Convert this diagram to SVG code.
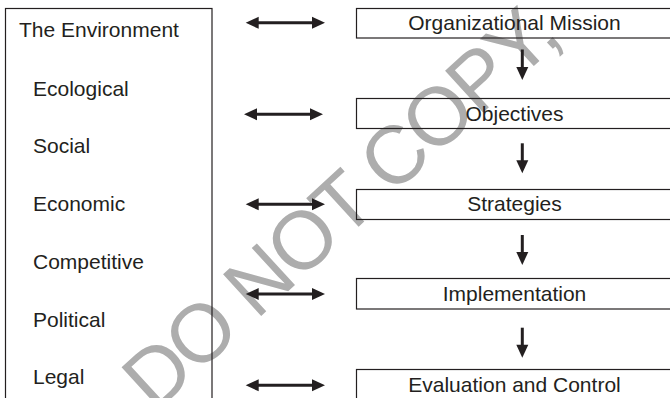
<svg xmlns="http://www.w3.org/2000/svg" width="670" height="398" viewBox="0 0 670 398">
  <defs>
    <marker id="head" markerUnits="userSpaceOnUse" markerWidth="13" markerHeight="12" refX="5" refY="6" orient="auto-start-reverse" overflow="visible">
      <path d="M0,0 L13,6 L0,12 Z" fill="#231f20"/>
    </marker>
  </defs>
  <style>
    .box { fill: none; stroke: #231f20; stroke-width: 1.2; }
    .lbl { font-family: "Liberation Sans", Arial, Helvetica, sans-serif; font-size: 21px; fill: #231f20; }
    .mid { text-anchor: middle; }
    .conn { stroke: #231f20; stroke-width: 3; fill: none; }
    .mark { font-family: "Liberation Sans", Arial, sans-serif; font-size: 82px; fill: #adadad; letter-spacing: -2.7px; }
  </style>
  <rect width="670" height="398" fill="#ffffff"/>

  <!-- diagonal watermark, drawn beneath the chart -->
  <text class="mark" transform="translate(154.7,413.5) rotate(-42.5)">DO NOT COPY,</text>

  <!-- environment panel with its factors -->
  <g id="environment">
    <rect class="box" x="5.5" y="8.5" width="206.5" height="400"/>
    <text class="lbl" x="19" y="37.3">The Environment</text>
    <text class="lbl" x="33" y="95.7">Ecological</text>
    <text class="lbl" x="33" y="153.3">Social</text>
    <text class="lbl" x="33" y="211">Economic</text>
    <text class="lbl" x="33" y="268.5">Competitive</text>
    <text class="lbl" x="33" y="326.7">Political</text>
    <text class="lbl" x="33" y="383.5">Legal</text>
  </g>

  <!-- planning stages -->
  <g id="mission">
    <rect class="box" x="356.5" y="8.5" width="320" height="29.5"/>
    <text class="lbl mid" x="514.5" y="30">Organizational Mission</text>
  </g>
  <g id="objectives">
    <rect class="box" x="356.5" y="98.5" width="320" height="30"/>
    <text class="lbl mid" x="514.5" y="120.5">Objectives</text>
  </g>
  <g id="strategies">
    <rect class="box" x="356.5" y="189.5" width="320" height="30"/>
    <text class="lbl mid" x="514.5" y="211">Strategies</text>
  </g>
  <g id="implementation">
    <rect class="box" x="356.5" y="278.5" width="320" height="30.5"/>
    <text class="lbl mid" x="514.5" y="300.7">Implementation</text>
  </g>
  <g id="evaluation">
    <rect class="box" x="356.5" y="369.5" width="320" height="40"/>
    <text class="lbl mid" x="514.5" y="391.7">Evaluation and Control</text>
  </g>

  <!-- connectors -->
  <g id="connectors">
    <!-- two-way links between environment and each stage -->
    <line class="conn" x1="253.7" y1="22.8" x2="317" y2="22.8" marker-start="url(#head)" marker-end="url(#head)"/>
    <line class="conn" x1="252" y1="114.3" x2="315" y2="114.3" marker-start="url(#head)" marker-end="url(#head)"/>
    <line class="conn" x1="253.7" y1="204.3" x2="317" y2="204.3" marker-start="url(#head)" marker-end="url(#head)"/>
    <line class="conn" x1="253.7" y1="294" x2="317" y2="294" marker-start="url(#head)" marker-end="url(#head)"/>
    <line class="conn" x1="253.7" y1="385.3" x2="317" y2="385.3" marker-start="url(#head)" marker-end="url(#head)"/>
    <!-- downward flow between stages -->
    <line class="conn" x1="522.3" y1="49.5" x2="522.3" y2="72" marker-end="url(#head)"/>
    <line class="conn" x1="522.3" y1="143.3" x2="522.3" y2="165.3" marker-end="url(#head)"/>
    <line class="conn" x1="522.3" y1="235" x2="522.3" y2="257" marker-end="url(#head)"/>
    <line class="conn" x1="522.3" y1="327.7" x2="522.3" y2="349.7" marker-end="url(#head)"/>
  </g>
</svg>
